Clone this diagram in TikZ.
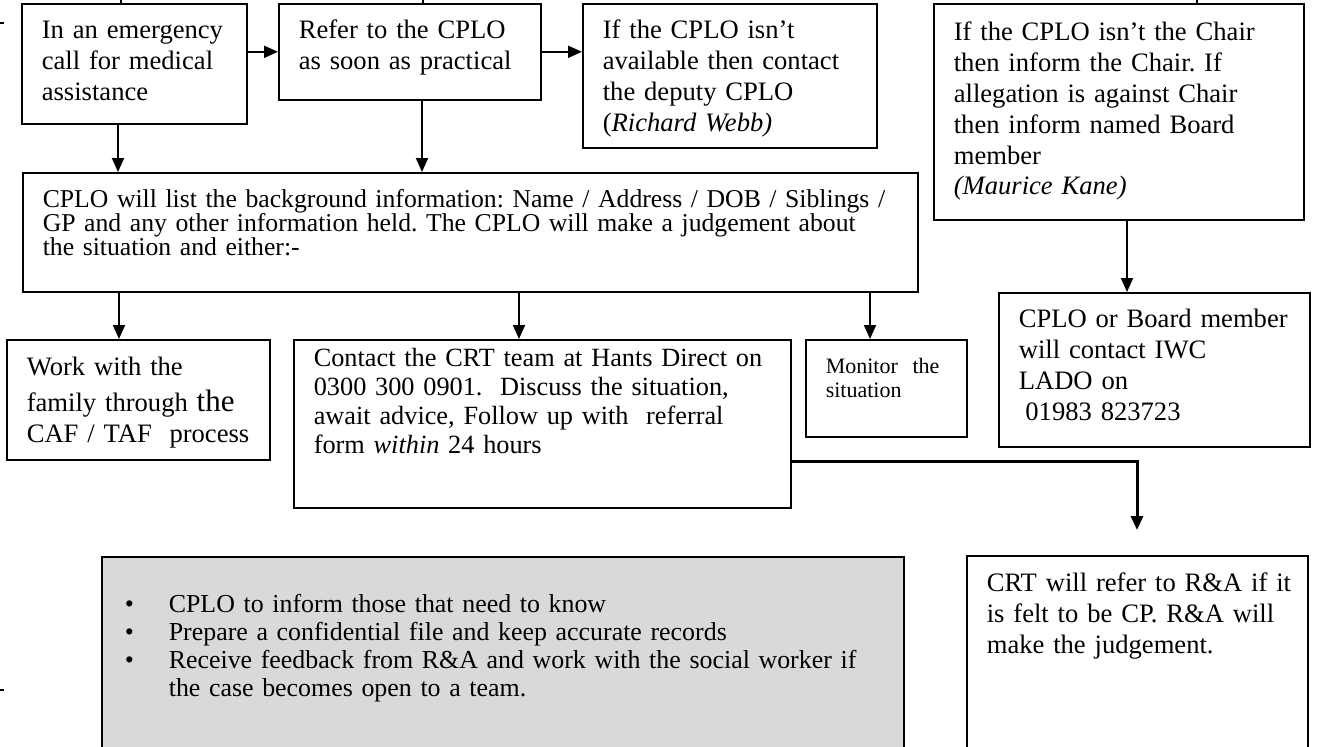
\documentclass[tikz,border=0pt]{standalone}
\usepackage{fontspec}
\setmainfont{Liberation Serif}
\usetikzlibrary{arrows.meta}
\frenchspacing

\begin{document}
\begin{tikzpicture}[x=0.5pt, y=-0.5pt,
  box/.style={draw, line width=0.8pt, anchor=north west, inner sep=0pt, align=left,
    font={\fontsize{13.3}{15.4}\selectfont\lineskiplimit=-5pt},
    execute at begin node={\leftskip=10pt}},
  arr/.style={line width=1pt, -{Triangle[length=7pt,width=6pt]}}]

\useasboundingbox (0,0) rectangle (1323,746);
\clip (0,0) rectangle (1323,746);

% top row
\node[box, text width=112.5pt, text height=17.5pt, text depth=42.5pt] (emerg) at (21,3)
  {In an emergency\\call for medical\\assistance};
\node[box, text width=131pt, text height=17.5pt, text depth=30.5pt] (refer) at (278,3)
  {Refer to the CPLO\\as soon as practical};
\node[box, text width=147pt, text height=17.5pt, text depth=54.5pt] (deputy) at (582,3)
  {If the CPLO isn’t\\available then contact\\the deputy CPLO\\(\textit{Richard Webb)}};
\node[box, text width=185pt, text height=18.5pt, text depth=89.5pt] (chair) at (933,3)
  {If the CPLO isn’t the Chair\\then inform the Chair. If\\allegation is against Chair\\then inform named Board\\member\\\textit{(Maurice Kane)}};
\node[box, text width=155.5pt, text height=17.5pt, text depth=59.5pt] (lado) at (998,292)
  {CPLO or Board member\\will contact IWC\\LADO on\\\hspace*{3.3pt}01983 823723};

% middle
\node[box, text width=447.5pt, text height=17.5pt, text depth=42pt,
  font={\fontsize{12.85}{12}\selectfont\lineskiplimit=-5pt}] (cplo) at (22,172)
  {CPLO will list the background information: Name / Address / DOB / Siblings /\\GP and any other information held. The CPLO will make a judgement about\\the situation and either:-};

% options
\node[box, text width=131.5pt, text height=18pt, text depth=42pt] (family) at (6,339)
  {Work with the\\[2.5pt]family through {\fontsize{15.5}{15.5}\selectfont the}\\CAF / TAF\ \ process};
\node[box, text width=248.5pt, text height=13.5pt, text depth=70.5pt,
  font={\fontsize{13.15}{14.5}\selectfont\lineskiplimit=-5pt}] (crt) at (293,339)
  {Contact the CRT team at Hants Direct on\\0300 300 0901.\ \ Discuss the situation,\\await advice, Follow up with\ \ referral\\form \textit{within} 24 hours};
\node[box, text width=80.5pt, text height=17pt, text depth=31.5pt,
  font={\fontsize{11}{12}\selectfont\lineskiplimit=-5pt}] (monitor) at (805,339)
  {Monitor\ \ the\\situation};

% bottom
\node[box, fill=black!15, text width=401pt, text height=28pt, text depth=74pt,
  font={\fontsize{12.95}{14}\selectfont\lineskiplimit=-5pt},
  execute at begin node={\leftskip=33.5pt}] (tasks) at (101,556)
  {\leavevmode\llap{\makebox[22pt][l]{\textbullet}}CPLO to inform those that need to know\\
   \leavevmode\llap{\makebox[22pt][l]{\textbullet}}Prepare a confidential file and keep accurate records\\
   \leavevmode\llap{\makebox[22pt][l]{\textbullet}}Receive feedback from R\&A and work with the social worker if\\the case becomes open to a team.};
\node[box, text width=170.5pt, text height=18pt, text depth=84.5pt] (rna) at (966,555)
  {CRT will refer to R\&A if it\\is felt to be CP. R\&A will\\make the judgement.};

% arrows
\coordinate (e1) at ([xshift=48.5pt]emerg.south west);
\coordinate (r1) at ([xshift=72pt]refer.south west);
\coordinate (c1) at ([xshift=97pt]chair.south west);
\coordinate (p1) at ([xshift=48.5pt]cplo.south west);
\coordinate (p2) at ([xshift=248.5pt]cplo.south west);
\coordinate (p3) at ([xshift=424pt]cplo.south west);
\coordinate (h1) at ([yshift=23.5pt]crt.south east);
\coordinate (tip) at (1137,530);

\draw[arr] (emerg.east |- refer.west) -- (refer.west);
\draw[arr] (refer.east) -- (refer.east -| deputy.west);
\draw[arr] (e1) -- (e1 |- cplo.north);
\draw[arr] (r1) -- (r1 |- cplo.north);
\draw[arr] (c1) -- (c1 |- lado.north);
\draw[arr] (p1) -- (p1 |- family.north);
\draw[arr] (p2) -- (p2 |- crt.north);
\draw[arr] (p3) -- (p3 |- monitor.north);
\draw[arr, line width=1.5pt] (h1) -| (tip);

% stubs at the edges
\draw[line width=0.6pt] (121,0) -- (121,3) (423,0) -- (423,3) (1197,0) -- (1197,3);
\draw[line width=0.6pt] (0,23) -- (4,23) (0,690) -- (4,690);
\end{tikzpicture}
\end{document}
